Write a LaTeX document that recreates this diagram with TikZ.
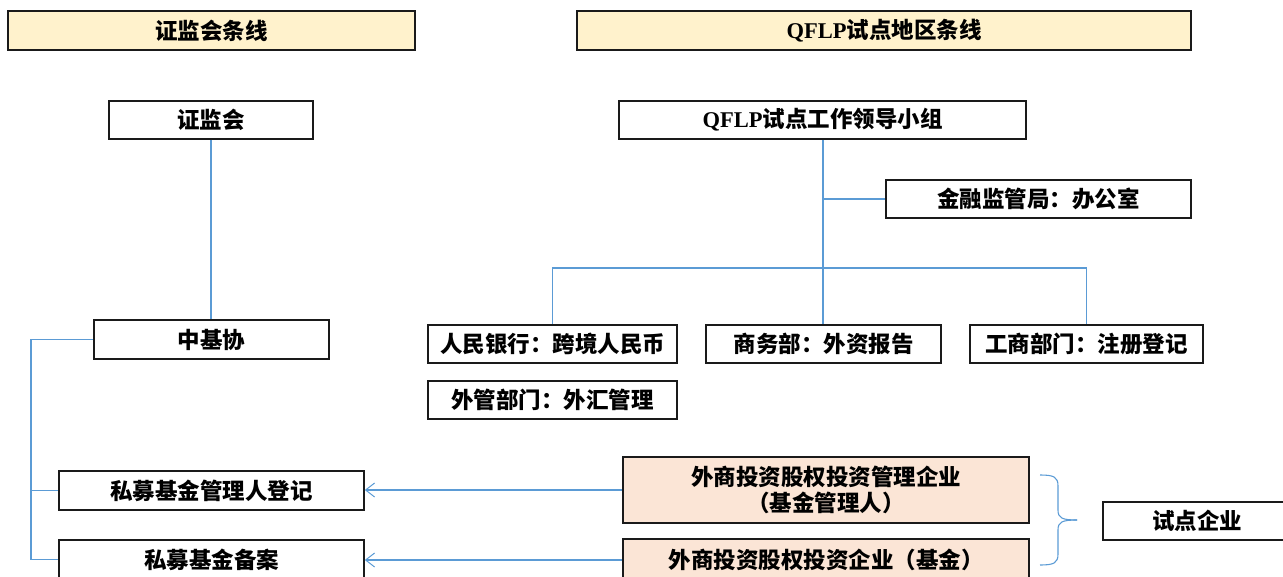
\documentclass[tikz,border=0pt]{standalone}
\usepackage{fontspec}
\setmainfont{Liberation Serif}
\newfontfamily\cjk{Noto Sans CJK SC}
\usetikzlibrary{arrows.meta}
\definecolor{lineblue}{HTML}{5B9BD5}
\definecolor{hdrfill}{HTML}{FFF2CC}
\definecolor{peach}{HTML}{FBE5D6}
\definecolor{boxline}{HTML}{1A1A1A}
\begin{document}
\begin{tikzpicture}[x=1pt,y=-1pt,
  box/.style={draw=boxline, line width=1.6pt, inner sep=0pt, align=center,
    font=\cjk\bfseries\fontsize{22.5}{26}\selectfont},
  conn/.style={draw=lineblue, line width=1.4pt},
  arr/.style={conn, -{Straight Barb[length=9pt,width=14pt,line width=1pt]}}]
\useasboundingbox (0,0) rectangle (1283,576);
% headers
\node[box, fill=hdrfill, minimum width=407pt, minimum height=39pt] (h1) at (211.5,30.5) {证监会条线};
\node[box, fill=hdrfill, minimum width=614pt, minimum height=39pt] (h2) at (884,30.5) {{\rmfamily QFLP}试点地区条线};
% left column
\node[box, minimum width=204pt, minimum height=38pt] (zjh) at (211,120) {证监会};
\node[box, minimum width=235pt, minimum height=39pt] (zjx) at (211.5,339.5) {中基协};
\node[box, minimum width=305pt, minimum height=39pt] (smgl) at (211.5,490.5) {私募基金管理人登记};
\node[box, minimum width=305pt, minimum height=39pt] (smba) at (211.5,559.5) {私募基金备案};
% right column
\node[box, minimum width=407pt, minimum height=38pt] (qflp) at (822.5,120) {{\rmfamily QFLP}试点工作领导小组};
\node[box, minimum width=305pt, minimum height=38pt] (jr) at (1038.5,199) {金融监管局：办公室};
\node[box, minimum width=249pt, minimum height=38pt] (rmyh) at (552.5,344) {人民银行：跨境人民币};
\node[box, minimum width=235pt, minimum height=38pt] (swb) at (823.5,344) {商务部：外资报告};
\node[box, minimum width=233pt, minimum height=38pt] (gs) at (1086.5,344) {工商部门：注册登记};
\node[box, minimum width=249pt, minimum height=38pt] (wg) at (552.5,400) {外管部门：外汇管理};
\node[box, fill=peach, minimum width=406pt, minimum height=66pt] (wsgl) at (826,490) {外商投资股权投资管理企业\\（基金管理人）};
\node[box, fill=peach, minimum width=406pt, minimum height=42pt] (wsqy) at (826,560) {外商投资股权投资企业（基金）};
\node[box, minimum width=188pt, minimum height=38pt] (sd) at (1197,521) {试点企业};
% connectors
\draw[conn] (zjh.south) -- (zjh.south |- zjx.north);
\coordinate (lv) at (31,339.5);
\draw[conn] (zjx.west) -- (lv) |- (smba.west);
\draw[conn] (smgl.west -| lv) -- (smgl.west);
\path (qflp.south) ++(0.5,128) coordinate (hub);
\draw[conn] (qflp.south -| hub) -- (hub);
\draw[conn] (jr.west) -- (jr.west -| hub);
\draw[conn] (rmyh.north) |- (hub) -| (gs.north);
\draw[conn] (hub) -- (hub |- swb.north);
\draw[arr] (wsgl.west) -- (wsgl.west -| smgl.east);
\draw[arr] (wsqy.west) -- (wsqy.west -| smba.east);
% brace
\coordinate (bt) at (1040,475);
\coordinate (bb) at (1040,565);
\coordinate (btip) at (1077,520);
\draw[conn, line width=1.1pt] (bt) .. controls (1054,475) and (1058,477) .. (1058,486) -- (1058,510)
  .. controls (1058,518) and (1062,520) .. (btip);
\draw[conn, line width=1.1pt] (btip) .. controls (1062,520) and (1058,522) .. (1058,530) -- (1058,554)
  .. controls (1058,563) and (1054,565) .. (bb);
\end{tikzpicture}
\end{document}
